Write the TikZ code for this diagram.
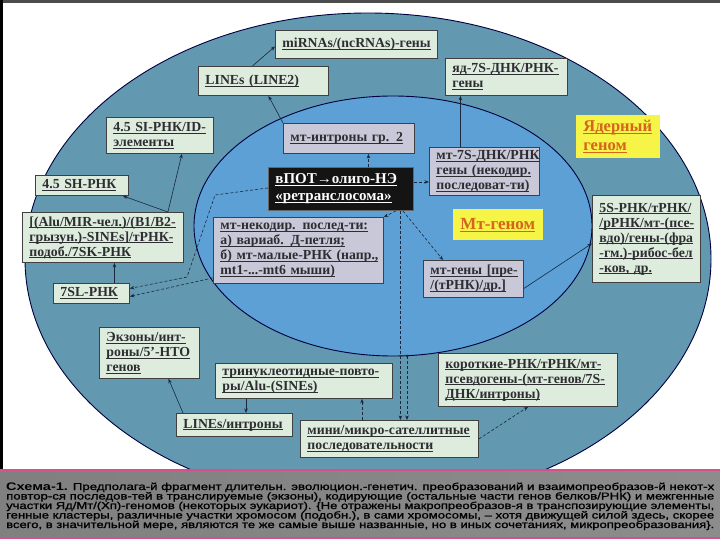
\documentclass[tikz,border=0pt]{standalone}
\usepackage{fontspec}
\setmainfont{Liberation Serif}
\newfontfamily\capfont[FakeBold=1.2]{Liberation Sans}
\newfontfamily\capfontB{Liberation Sans Bold}
\usetikzlibrary{arrows.meta,calc}
\definecolor{outerC}{RGB}{98,152,176}
\definecolor{innerC}{RGB}{92,160,214}
\definecolor{greenC}{RGB}{222,236,222}
\definecolor{lavC}{RGB}{200,200,216}
\definecolor{yelC}{RGB}{246,244,70}
\definecolor{orgC}{RGB}{212,100,30}
\definecolor{txtC}{RGB}{45,45,50}
\definecolor{lineC}{RGB}{25,40,60}
\definecolor{pinkC}{RGB}{214,80,140}
\newsavebox\ubox
\newcommand\U[1]{\leavevmode\sbox\ubox{#1}\rlap{\rule[-2.3pt]{\wd\ubox}{0.9pt}}\usebox\ubox}
\newcommand\capl[1]{\resizebox{708pt}{\height}{\capfont #1}}
\tikzset{
  boxbase/.style={draw=black!75, line width=0.9pt, inner xsep=7pt, inner ysep=2pt,
    font=\bfseries\fontsize{13.8}{15}\selectfont, text=txtC, align=left, anchor=north west},
  gbox/.style={boxbase, fill=greenC},
  lbox/.style={boxbase, fill=lavC},
  ybox/.style={boxbase, fill=yelC, draw=none, text=orgC, font=\bfseries\fontsize{16.5}{19}\selectfont},
  kbox/.style={boxbase, fill=black!92, draw=black!60, text=white, font=\bfseries\fontsize{15}{17}\selectfont},
  arr/.style={draw=lineC, line width=0.6pt, -{Stealth[length=4.5pt,width=3.5pt]}},
  darr/.style={arr, dash pattern=on 3pt off 2pt},
  capline/.style={anchor=base west, inner sep=0pt, text=black}
}
\begin{document}
\begin{tikzpicture}[x=1pt,y=-1pt]
\fill[white] (0,0) rectangle (720,540);
\useasboundingbox (0,0) rectangle (720,540);
% frame edges
\fill[black!70] (0,0) rectangle (720,3);
\fill[black] (0,0) rectangle (3,470);
% ellipses
\draw[fill=outerC, draw=black!75!blue, line width=0.9pt] (368,259) ellipse [x radius=343pt, y radius=246pt];
\draw[fill=innerC, draw=black!75!blue, line width=0.9pt] (393,226) ellipse [x radius=199pt, y radius=130pt];
% boxes
\node[gbox, text width=148pt, minimum height=28pt] (mirna) at (275,30) {\U{miRNAs/(ncRNAs)-гены}};
\node[gbox, text width=116pt, minimum height=29pt] (line2) at (198,66) {\U{LINEs (LINE2)}};
\node[gbox, text width=108pt, minimum height=37pt] (yad7s) at (445,58) {\U{яд-7S-ДНК/РНК-}\\\U{гены}};
\node[gbox, text width=93pt, minimum height=36pt] (si45) at (106,117) {\U{4.5 SI-РНК/ID-}\\\U{элементы}};
\node[lbox, text width=117pt, minimum height=30pt] (mtintr) at (283,123) {\U{мт-интроны гр. 2}};
\node[ybox, text width=70pt, minimum height=43pt] (yadgen) at (576,115) {\U{Ядерный}\\\U{геном}};
\node[lbox, text width=96pt, minimum height=48pt] (mt7s) at (429,147) {\U{мт-7S-ДНК/РНК}\\\U{гены (некодир.}\\\U{последоват-ти)}};
\node[kbox, text width=131pt, minimum height=43pt] (core) at (268,167) {\U{вПОТ→олиго-НЭ}\\\U{«ретранслосома»}};
\node[gbox, text width=79pt, minimum height=20pt, inner ysep=1pt] (sh45) at (35,175) {\U{4.5 SH-РНК}};
\node[gbox, text width=147pt, minimum height=50pt] (alu) at (22,212) {\U{[(Alu/MIR-чел.)/(B1/B2-}\\\U{грызун.)-SINEs]/тРНК-}\\\U{подоб./7SK-РНК}};
\node[lbox, text width=156pt, minimum height=66pt] (mtnc) at (213,217) {\U{мт-некодир. послед-ти:}\\\U{а) вариаб. Д-петля;}\\\U{б) мт-малые-РНК (напр.,}\\\U{mt1-...-mt6 мыши)}};
\node[ybox, text width=76pt, minimum height=31pt, font=\bfseries\fontsize{17}{19}\selectfont] (mtgen) at (453,209) {\U{Мт-геном}};
\node[lbox, text width=86pt, minimum height=37pt] (mtgenes) at (423,260) {\U{мт-гены [пре-}\\\U{/(тРНК)/др.]}};
\node[gbox, text width=94pt, minimum height=87pt] (s5) at (592,195) {\U{5S-РНК/тРНК/}\\\U{/рРНК/мт-(псе-}\\\U{вдо)/гены-(фра}\\\U{-гм.)-рибос-бел}\\\U{-ков, др.}};
\node[gbox, text width=62pt, minimum height=20pt, inner ysep=1pt] (sl7) at (53,283) {\U{7SL-РНК}};
\node[gbox, text width=86pt, minimum height=51pt] (exons) at (99,327) {\U{Экзоны/инт-}\\\U{роны/5'-НТО}\\\U{генов}};
\node[gbox, text width=163pt, minimum height=35pt] (trinuc) at (215,363) {\U{тринуклеотидные-повто-}\\\U{ры/Alu-(SINEs)}};
\node[gbox, text width=165pt, minimum height=53pt] (short) at (438,353) {\U{короткие-РНК/тРНК/мт-}\\\U{псевдогены-(мт-генов/7S-}\\\U{ДНК/интроны)}};
\node[gbox, text width=102pt, minimum height=23pt, inner ysep=1pt] (linesint) at (176,413) {\U{LINEs/интроны}};
\node[gbox, text width=164pt, minimum height=37pt] (mini) at (300,420) {\U{мини/микро-сателлитные}\\\U{последовательности}};
% connectors
\draw[arr] ([xshift=-11pt]line2.north) -- ([yshift=-2pt]mirna.west);
\draw[arr] (mtintr.north west) -- ([xshift=5pt]line2.south);
\draw[arr] ([xshift=-24pt]mt7s.north) -- ([xshift=-24pt]mt7s.north |- yad7s.south);
\draw[darr] ([xshift=27.5pt]core.north) -- ([xshift=27.5pt]core.north |- mtintr.south);
\draw[darr] ([yshift=7pt]core.east) -- ([yshift=7pt]core.east -| mt7s.west);
\draw[darr] ([xshift=55pt]core.south) -- (mtnc.north east);
\draw[darr] ([xshift=62pt]core.south) -- ([xshift=20pt]mtgenes.north west);
\coordinate (bA) at (215,195);
\coordinate (bB) at (187,277);
\draw[darr] ([yshift=1pt]core.west) -- (bA) -- (bB) -- ([yshift=5pt]sl7.east);
\draw[darr] ([yshift=6pt]mtnc.south west) -- ([yshift=-3pt]sl7.east);
\draw[arr] ([xshift=-16pt]alu.north east) -- ([xshift=-6pt]sh45.south east);
\draw[arr] ([xshift=-16pt]alu.north east) -- ([xshift=22pt]si45.south);
\draw[arr] ([xshift=23pt]sl7.north) -- ([xshift=23pt]sl7.north |- alu.south);
\draw[arr] ([xshift=7pt]linesint.north west) -- ([xshift=19pt]exons.south);
\draw[arr] ([xshift=31pt]trinuc.south west) -- ([xshift=31pt]trinuc.south west |- linesint.north);
\draw[darr] ([xshift=62pt]mini.north west) -- ([xshift=62pt]mini.north west |- trinuc.south);
\draw[darr] ([xshift=59.5pt]core.south) -- ([xshift=59.5pt]core.south |- mini.north);
\coordinate (ib) at (407,356);
\fill[lineC] (ib) circle (1.5pt);
\draw[darr] (ib) -- (ib |- mini.north);
\draw[darr] (mini.east) -- ([xshift=90pt]short.south west);
\draw[arr] ([yshift=-9.5pt]mtgenes.east) -- ([yshift=-4.5pt]s5.west);
% caption band
\shade[left color=black!50, middle color=white, right color=black!45] (0,470) rectangle (720,538);
\draw[pinkC, line width=1.6pt] (0,470) -- (720,470);
\draw[pinkC, line width=1.6pt] (0,538) -- (720,538);
\node[capline] (c1) at (6,490) {\capl{{\capfontB\fontsize{11}{11}\selectfont Схема-1.} Предполага-й фрагмент длительн. эволюцион.-генетич. преобразований и взаимопреобразов-й некот-х}};
\node[capline] (c2) at (6,499.5) {\capl{повтор-ся последов-тей в транслируемые (экзоны), кодирующие (остальные части генов белков/РНК) и межгенные}};
\node[capline] (c3) at (6,509) {\capl{участки Яд/Мт/(Хп)-геномов (некоторых эукариот). \{Не отражены макропреобразов-я в транспозирующие элементы,}};
\node[capline] (c4) at (6,518.5) {\capl{генные кластеры, различные участки хромосом (подобн.), в сами хромосомы, – хотя движущей силой здесь, скорее}};
\node[capline] (c5) at (6,528) {\capl{всего, в значительной мере, являются те же самые выше названные, но в иных сочетаниях, микропреобразования\}.}};
\end{tikzpicture}
\end{document}
